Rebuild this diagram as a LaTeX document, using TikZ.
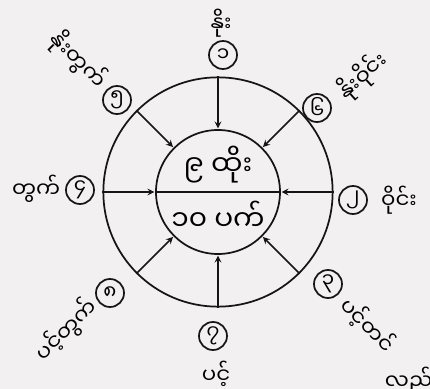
\documentclass[tikz,border=0pt]{standalone}
\usepackage{fontspec}
\newfontfamily\mmfont[Script=Myanmar]{Noto Sans Myanmar UI}
\begin{document}
\begin{tikzpicture}[x=0.75pt, y=-0.75pt, >=stealth, line width=1.3pt]

  % Colors
  \definecolor{paper}{HTML}{F2F0F0}
  \definecolor{ink}{HTML}{161414}

  \def\cx{218} % centre of the rings
  \def\cy{192}

  \tikzset{
    ring/.style={circle, draw=ink, inner sep=0pt},
    numc/.style={circle, draw=ink, inner sep=0pt, minimum size=21pt, font=\mmfont\fontsize{15}{17}\selectfont},
    lab/.style={inner sep=0pt, font=\mmfont\fontsize{16}{18}\selectfont},
    mid/.style={inner sep=0pt, font=\mmfont\fontsize{21}{24}\selectfont},
    spoke/.style={->, draw=ink, shorten >=0.5pt}
  }

  \fill[paper] (0,0) rectangle (430,389);
  \useasboundingbox (0,0) rectangle (430,389);

  % PART 1: the two rings
  \node[ring, minimum size=172pt] (outer) at (\cx,\cy) {};
  \node[ring, minimum size=93pt] (inner) at (\cx,\cy) {};

  % Spokes, pointing inwards
  \foreach \a in {90,45,-45,-90,-135,135} {
    \draw[spoke] (outer.\a) -- (inner.\a);
  }
  \draw[spoke] (outer.180) -- (inner.180);
  \draw[spoke] (outer.0) -- (inner.0);
  \draw[ink] (inner.180) -- (inner.0);

  % Centre text
  \node[mid] (upper) at (\cx,165) {၉ ထိုး};
  \node[mid] (lower) at (\cx,216) {၁၀ ပက်};

  % PART 2: numbered points round the outer ring
  \foreach \i/\x/\y/\d in {
    1/223/55/၁, 6/317/108/၆, 2/353/200/၂, 3/328/284/၃,
    7/213/336/၇, 8/110/293/၈, 4/80/190/၄, 5/117/100/၅}
  {
    \node[numc] (n\i) at (\x,\y) {\d};
  }

  % Their names
  \foreach \i/\x/\y/\rot/\txt in {
    1/221/23/0/နိုး, 6/363/76/42/နိုးဝိုင်း, 2/399/200/0/ဝိုင်း,
    3/368/325/-45/ပင့်တင်, 7/216/374/0/ပင့်, 8/66/330/45/ပင့်တွက်,
    4/36/189/0/တွက်, 5/78/60/-45/နိုးတွက်}
  {
    \node[lab, rotate=\rot] (t\i) at (\x,\y) {\txt};
  }

  % cut-off word at the page corner
  \node[lab, anchor=west] (edge) at (384,381) {လည်};

\end{tikzpicture}
\end{document}
